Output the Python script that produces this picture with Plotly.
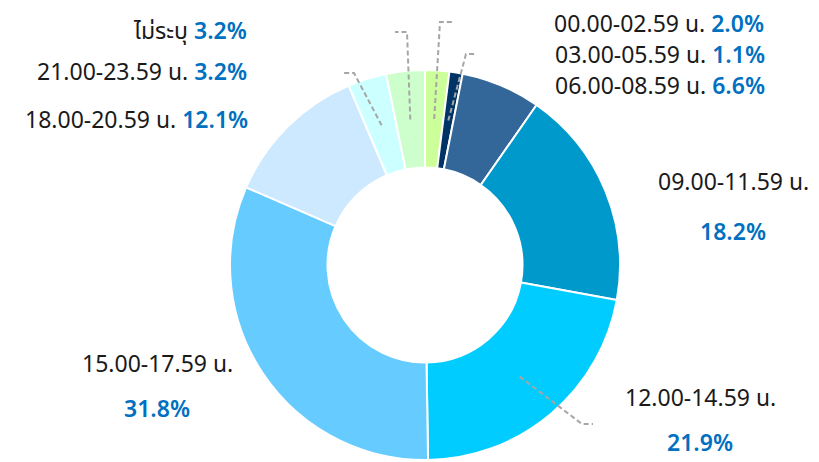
import math
import plotly.graph_objects as go

# data
categories = [
    "00.00-02.59 น.",
    "03.00-05.59 น.",
    "06.00-08.59 น.",
    "09.00-11.59 น.",
    "12.00-14.59 น.",
    "15.00-17.59 น.",
    "18.00-20.59 น.",
    "21.00-23.59 น.",
    "ไม่ระบุ",
]
shares = [2.0, 1.1, 6.6, 18.2, 21.9, 31.8, 12.1, 3.2, 3.2]
slice_colors = [
    "#CCFF99", "#003366", "#336699", "#0099CC", "#00CCFF",
    "#66CCFF", "#CCE9FF", "#CCFFFF", "#CCFFCC",
]

# the page body adds an 8px margin, so the figure is drawn 8px smaller
OFF = 8
W, H = 819 - OFF, 462 - OFF
CX, CY, R = 425 - OFF, 265 - OFF, 195
HOLE = 0.5
FONT = "Noto Sans Thai, Noto Sans, DejaVu Sans, sans-serif"
BLUE = "#0070C0"
FS = 23

fig = go.Figure()
fig.add_trace(
    go.Pie(
        labels=categories,
        values=shares,
        hole=HOLE,
        sort=False,
        direction="clockwise",
        rotation=0,
        textinfo="none",
        hoverinfo="label+percent",
        marker=dict(colors=slice_colors, line=dict(color="white", width=2)),
        domain=dict(
            x=[(CX - R) / W, (CX + R) / W],
            y=[(H - CY - R) / H, (H - CY + R) / H],
        ),
        showlegend=False,
    )
)

# label placement in page pixels: (x, y, anchor, two_lines)
label_pos = [
    (553, 25, "left", False),
    (554, 56, "left", False),
    (554, 87, "left", False),
    (733, 183, "center", True),
    (700, 399, "center", True),
    (157, 365, "center", True),
    (249, 121, "right", False),
    (248, 73, "right", False),
    (248, 32, "right", False),
]
# leader lines: index -> (elbow, end) in page pixels
leaders = {
    0: ((440, 22), (453, 22)),
    1: ((466, 54), (477, 54)),
    4: ((582, 424), (593, 424)),
    7: ((354, 73), (344, 73)),
    8: ((407, 32), (395, 32)),
}

total = sum(shares)
cum = 0
mids = []
for v in shares:
    mids.append((cum + v / 2) / total * 2 * math.pi)
    cum += v

r_mid = R * (1 + HOLE) / 2
for i, (elbow, end) in leaders.items():
    a = mids[i]
    sx = CX + r_mid * math.sin(a)
    sy = CY - r_mid * math.cos(a)
    ex, ey = elbow[0] - OFF, elbow[1] - OFF
    tx, ty = end[0] - OFF, end[1] - OFF
    fig.add_shape(
        type="path",
        path=f"M {sx:.1f} {sy:.1f} L {ex} {ey} L {tx} {ty}",
        xref="x", yref="y",
        line=dict(color="#A6A6A6", width=2, dash="5px,3px"),
        layer="above",
    )

for i, (cat, v) in enumerate(zip(categories, shares)):
    x, y, anchor, two = label_pos[i]
    x, y = x - OFF, y - OFF
    pct = f"<span style='color:{BLUE};font-weight:600'>{v:.1f}%</span>"
    if two:
        fig.add_annotation(x=x, y=y, text=cat, showarrow=False, xanchor="center",
                           yanchor="middle", font=dict(size=FS, color="#1A1A1A", family=FONT))
        fig.add_annotation(x=x, y=y + (50 if i == 3 else 45), text=pct, showarrow=False,
                           xanchor="center", yanchor="middle",
                           font=dict(size=FS, color=BLUE, family=FONT))
    else:
        fig.add_annotation(x=x, y=y, text=f"{cat} {pct}", showarrow=False, xanchor=anchor,
                           yanchor="middle", borderpad=0,
                           font=dict(size=FS, color="#1A1A1A", family=FONT))

fig.update_layout(
    width=W,
    height=H,
    margin=dict(l=0, r=0, t=0, b=0),
    paper_bgcolor="white",
    plot_bgcolor="rgba(0,0,0,0)",
    xaxis=dict(range=[0, W], visible=False, fixedrange=True),
    yaxis=dict(range=[H, 0], visible=False, fixedrange=True),
    font=dict(family=FONT),
)

fig.write_html("out.html")
